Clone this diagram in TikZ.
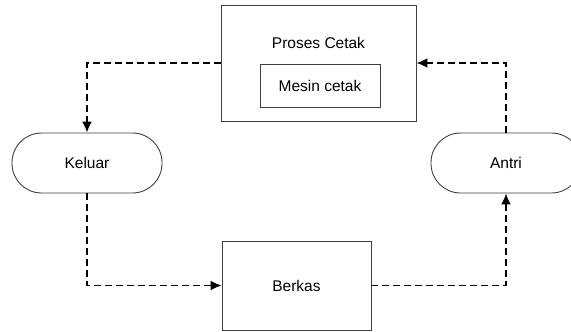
\documentclass[tikz,border=0pt]{standalone}
\usepackage{fontspec}
\setmainfont{Liberation Sans}
\usetikzlibrary{arrows.meta}
\begin{document}
\begin{tikzpicture}[x=1pt,y=-1pt,
  every node/.style={font=\fontsize{15.5}{18}\selectfont, text=black},
  box/.style={draw=black!75, line width=0.9pt, fill=white, inner sep=0pt},
  pill/.style={box, rounded corners=29.5pt, minimum width=150pt, minimum height=60pt},
  flow/.style={draw=black, line width=1.8pt, dash pattern=on 7pt off 4pt,
    -{Latex[length=11pt,width=10pt]}}]
  \useasboundingbox (0,0) rectangle (571,332);
  \clip (0,0) rectangle (571,332);

  % process box with the printer inside
  \node[box, minimum width=195pt, minimum height=116pt] (proc) at (318.5,63) {};
  \node (proctitle) at (318.5,43) {Proses Cetak};
  \node[box, minimum width=120pt, minimum height=43pt] (mesin) at (320,85.5) {Mesin cetak};

  % terminals
  \node[pill] (keluar) at (87,163) {Keluar};
  \node[pill] (antri) at (506,163) {Antri};

  % input files
  \node[box, minimum width=149pt, minimum height=89pt] (berkas) at (296.5,285.5) {Berkas};

  % cycle of dashed connectors
  \draw[flow] (proc.west) -| (keluar.north);
  \draw[flow] (keluar.south) |- (berkas.west);
  \draw[flow] (berkas.east) -| (antri.south);
  \draw[flow] (antri.north) |- (proc.east);
\end{tikzpicture}
\end{document}
